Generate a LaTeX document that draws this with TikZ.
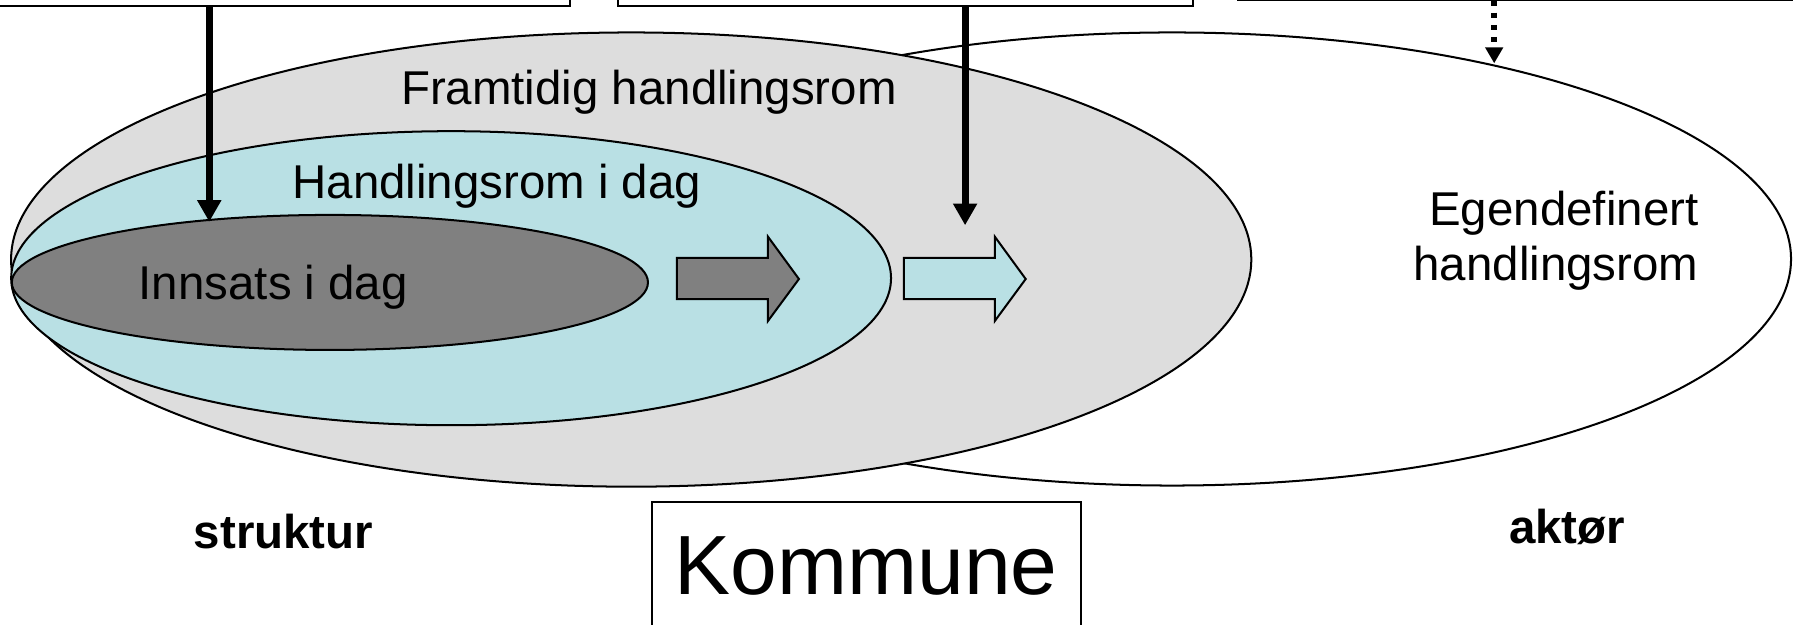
\documentclass[tikz,border=0pt]{standalone}
\usepackage{fontspec}
\setmainfont{Liberation Sans}
\definecolor{futuregrey}{RGB}{221, 221, 221}
\definecolor{todaycyan}{RGB}{185, 224, 228}
\definecolor{effortgrey}{RGB}{128, 128, 128}
\usetikzlibrary{shapes.geometric, arrows.meta}

\begin{document}
\begin{tikzpicture}[x=0.01cm, y=-0.01cm,
        every node/.style={font=\fontsize{11.8}{13.7}\selectfont},
        space/.style={draw, ellipse, line width=0.5pt, inner sep=0pt},
        topbox/.style={draw, line width=0.5pt, minimum height=2cm, inner sep=0pt},
        lbl/.style={anchor=base, inner sep=0pt},
        bold/.style={font=\fontsize{11.8}{13.7}\selectfont\bfseries},
        arr/.style={-{Triangle[width=5.7pt, length=5.4pt]}, line width=1.7pt},
        dotarr/.style={-{Triangle[width=4.3pt, length=4pt]}, line width=1.4pt, dash pattern=on 1.3pt off 1.7pt},
        blockarr/.style={draw, line width=0.5pt}
    ]
    \useasboundingbox (0,0) rectangle (1568,546);

    % Boxes above (cut by the page edge)
    \node[topbox, minimum width=5.4cm, anchor=south east] (ramme1) at (499,6) {};
    \node[topbox, minimum width=5.02cm, anchor=south west] (ramme2) at (540,6) {};
    \node[topbox, minimum width=6cm, anchor=south west] (ramme3) at (1082,0.6) {};

    % Spaces
    \node[space, fill=white, minimum width=10.82cm, minimum height=3.96cm] (egen) at (1025,226.5) {};
    \node[space, fill=futuregrey, minimum width=10.84cm, minimum height=3.97cm] (framtid) at (552,227) {};
    \node[space, fill=todaycyan, minimum width=7.69cm, minimum height=2.57cm] (idag) at (394.5,243.3) {};
    \node[space, fill=effortgrey, minimum width=5.56cm, minimum height=1.18cm] (innsats) at (288.5,247) {};

    % Block arrows
    \draw[blockarr, fill=effortgrey] (592,225.6) -- (671.6,225.6) -- (671.6,207) -- (698.7,244)
        -- (671.6,280.7) -- (671.6,261.5) -- (592,261.5) -- cycle;
    \draw[blockarr, fill=todaycyan] (790.5,225.6) -- (870,225.6) -- (870,207) -- (897,244)
        -- (870,280.7) -- (870,261.5) -- (790.5,261.5) -- cycle;

    % Labels
    \node[lbl] (framtidtxt) at (567.5,91) {Framtidig handlingsrom};
    \node[lbl] (idagtxt) at (434.5,174) {Handlingsrom i dag};
    \node[lbl] (innsatstxt) at (239,261.7) {Innsats i dag};
    \node[lbl, anchor=base east, align=right] (egentxt) at (1486,245) {Egendefinert\\handlingsrom};
    \node[lbl, bold] (struktur) at (248,480) {struktur};
    \node[lbl, bold] (aktor) at (1370.5,475.6) {aktør};
    \node[draw, line width=0.5pt, minimum width=3.75cm, minimum height=1.114cm, inner sep=0pt,
        font=\fontsize{20.9}{25}\selectfont] (kommune) at (757.5,494.7) {Kommune};

    % Arrows
    \coordinate (pila) at (183,194);
    \coordinate (pilb) at (844,197);
    \coordinate (pilc) at (1306.7,55.4);
    \draw[arr] (ramme1.south -| pila) -- (pila);
    \draw[arr] (ramme2.south -| pilb) -- (pilb);
    \draw[dotarr] (ramme3.south -| pilc) -- (pilc);
\end{tikzpicture}
\end{document}
